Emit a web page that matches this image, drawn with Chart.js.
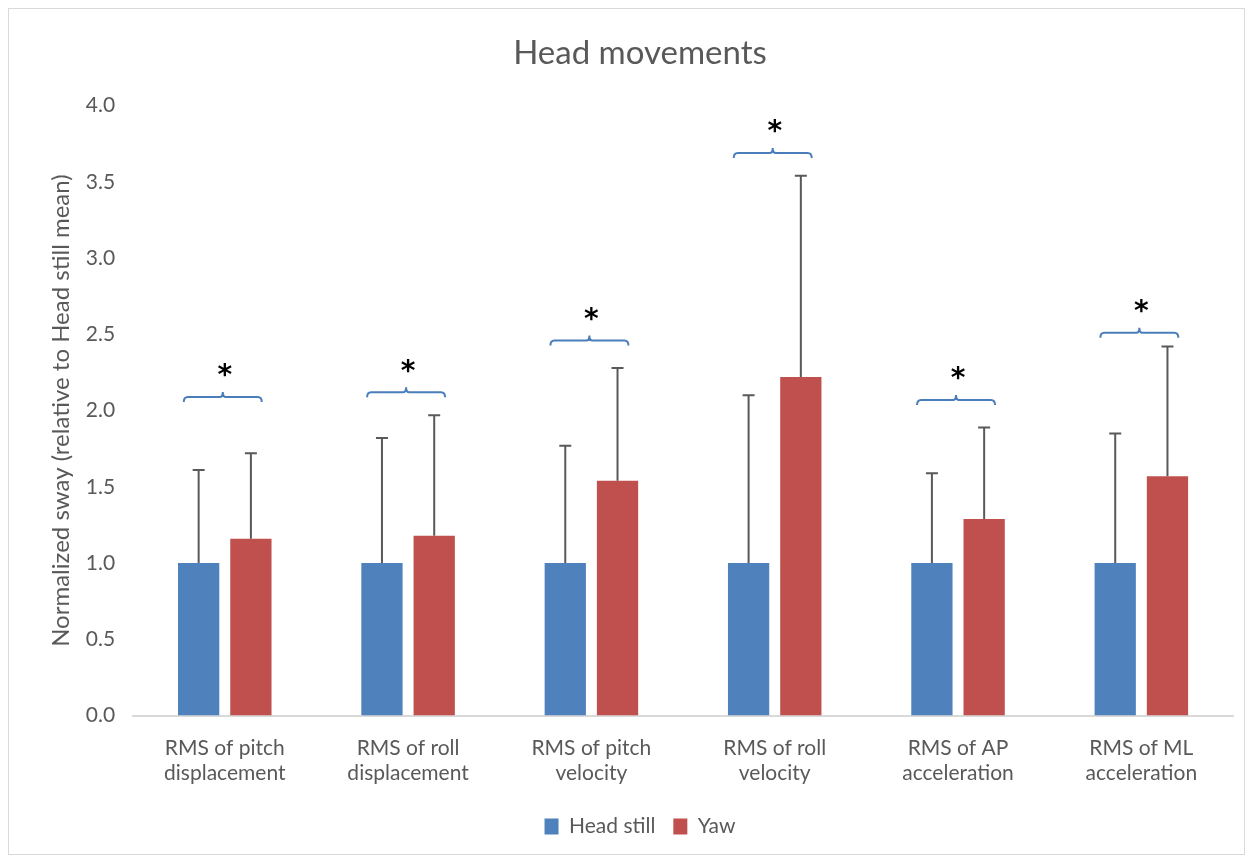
<!DOCTYPE html>
<html>
<head>
<meta charset="utf-8">
<script src="https://cdn.jsdelivr.net/npm/chart.js@4.4.1/dist/chart.umd.min.js"></script>
<style>
  html, body { margin: 0; padding: 0; background: #ffffff; }
  #wrap { position: relative; width: 1253px; height: 861px; }
  #frame { position: absolute; left: 8px; top: 8px; width: 1237px; height: 847px; border: 1px solid #d9d9d9; box-sizing: border-box; }
  canvas { position: absolute; left: 0; top: 0; }
</style>
</head>
<body>
<div id="wrap">
  <div id="frame"></div>
  <canvas id="graficoCabeca" width="1253" height="861"></canvas>
</div>
<script>
const categorias = [
    ['RMS of pitch', 'displacement'],
    ['RMS of roll', 'displacement'],
    ['RMS of pitch', 'velocity'],
    ['RMS of roll', 'velocity'],
    ['RMS of AP', 'acceleration'],
    ['RMS of ML', 'acceleration']
];
const headStill = [1.0, 1.0, 1.0, 1.0, 1.0, 1.0];
const yaw = [1.16, 1.18, 1.54, 2.22, 1.29, 1.57];
const headStillSD = [0.61, 0.82, 0.77, 1.10, 0.59, 0.85];
const yawSD = [0.56, 0.79, 0.74, 1.32, 0.60, 0.85];
const nivelChave = [2.09, 2.12, 2.46, 3.69, 2.07, 2.51];
const marcaChave = ['*', '*', '*', '*', '*', '*'];

const cores = {
    azul: '#4f81bd',
    vermelho: '#c0504d',
    cinzaTexto: '#595959',
    cinzaErro: '#595959',
    eixo: '#d9d9d9',
    chave: '#4a7ebb'
};

const fonte = "Lato, 'Open Sans', sans-serif";

// barras de erro (só para cima)
const barrasDeErro = {
    id: 'barrasDeErro',
    afterDatasetsDraw(chart) {
        const ctx = chart.ctx;
        const y = chart.scales.y;
        const desvios = [headStillSD, yawSD];
        ctx.save();
        ctx.strokeStyle = cores.cinzaErro;
        ctx.lineWidth = 2;
        chart.data.datasets.forEach((ds, d) => {
            const meta = chart.getDatasetMeta(d);
            meta.data.forEach((bar, i) => {
                const topo = y.getPixelForValue(ds.data[i] + desvios[d][i]);
                const base = y.getPixelForValue(ds.data[i]);
                ctx.beginPath();
                ctx.moveTo(bar.x, base);
                ctx.lineTo(bar.x, topo);
                ctx.moveTo(bar.x - 6, topo);
                ctx.lineTo(bar.x + 6, topo);
                ctx.stroke();
            });
        });
        ctx.restore();
    }
};

// chaves de significância com asterisco
const chaves = {
    id: 'chaves',
    afterDatasetsDraw(chart) {
        const ctx = chart.ctx;
        const x = chart.scales.x;
        const y = chart.scales.y;
        ctx.save();
        nivelChave.forEach((v, i) => {
            const cx = x.getPixelForValue(i) - 2;
            const cy = y.getPixelForValue(v);
            const meia = 39;
            ctx.strokeStyle = cores.chave;
            ctx.lineWidth = 2;
            ctx.beginPath();
            ctx.moveTo(cx - meia, cy + 5);
            ctx.quadraticCurveTo(cx - meia, cy, cx - meia + 4, cy);
            ctx.lineTo(cx - 3, cy);
            ctx.quadraticCurveTo(cx, cy, cx, cy - 5);
            ctx.quadraticCurveTo(cx, cy, cx + 3, cy);
            ctx.lineTo(cx + meia - 4, cy);
            ctx.quadraticCurveTo(cx + meia, cy, cx + meia, cy + 5);
            ctx.stroke();
            ctx.fillStyle = '#000000';
            ctx.font = "bold 28px 'DejaVu Sans', sans-serif";
            ctx.textAlign = 'center';
            ctx.textBaseline = 'middle';
            ctx.fillText(marcaChave[i], cx + 2, cy - 20);
        });
        ctx.restore();
    }
};

const ctxCabeca = document.getElementById('graficoCabeca');
new Chart(ctxCabeca, {
    type: 'bar',
    data: {
        labels: categorias,
        datasets: [{
            label: 'Head still',
            data: headStill,
            backgroundColor: cores.azul,
            borderWidth: 0,
            barPercentage: 0.79,
            categoryPercentage: 0.57
        }, {
            label: 'Yaw',
            data: yaw,
            backgroundColor: cores.vermelho,
            borderWidth: 0,
            barPercentage: 0.79,
            categoryPercentage: 0.57
        }]
    },
    options: {
        responsive: false,
        animation: false,
        layout: {
            padding: { top: 34, bottom: 14, left: 47, right: 20 }
        },
        plugins: {
            title: {
                display: true,
                text: 'Head movements',
                color: cores.cinzaTexto,
                font: { family: fonte, size: 33, weight: 'normal' },
                padding: { top: 0, bottom: 32 }
            },
            legend: {
                position: 'bottom',
                labels: {
                    color: cores.cinzaTexto,
                    boxWidth: 14,
                    boxHeight: 16,
                    padding: 18,
                    font: { family: fonte, size: 21 }
                }
            },
            tooltip: { enabled: false }
        },
        scales: {
            y: {
                min: 0,
                max: 4,
                ticks: {
                    stepSize: 0.5,
                    color: cores.cinzaTexto,
                    padding: 10,
                    font: { family: fonte, size: 21 },
                    callback: v => v.toFixed(1)
                },
                grid: { display: false },
                border: { display: false },
                title: {
                    display: true,
                    text: 'Normalized sway (relative to Head still mean)',
                    color: cores.cinzaTexto,
                    font: { family: fonte, size: 24 },
                    padding: { top: 0, bottom: 0 }
                }
            },
            x: {
                ticks: {
                    color: cores.cinzaTexto,
                    font: { family: fonte, size: 21 },
                    maxRotation: 0,
                    minRotation: 0,
                    padding: 12
                },
                grid: { display: false },
                border: { display: true, color: cores.eixo, width: 2 }
            }
        }
    },
    plugins: [barrasDeErro, chaves]
});
</script>
</body>
</html>
